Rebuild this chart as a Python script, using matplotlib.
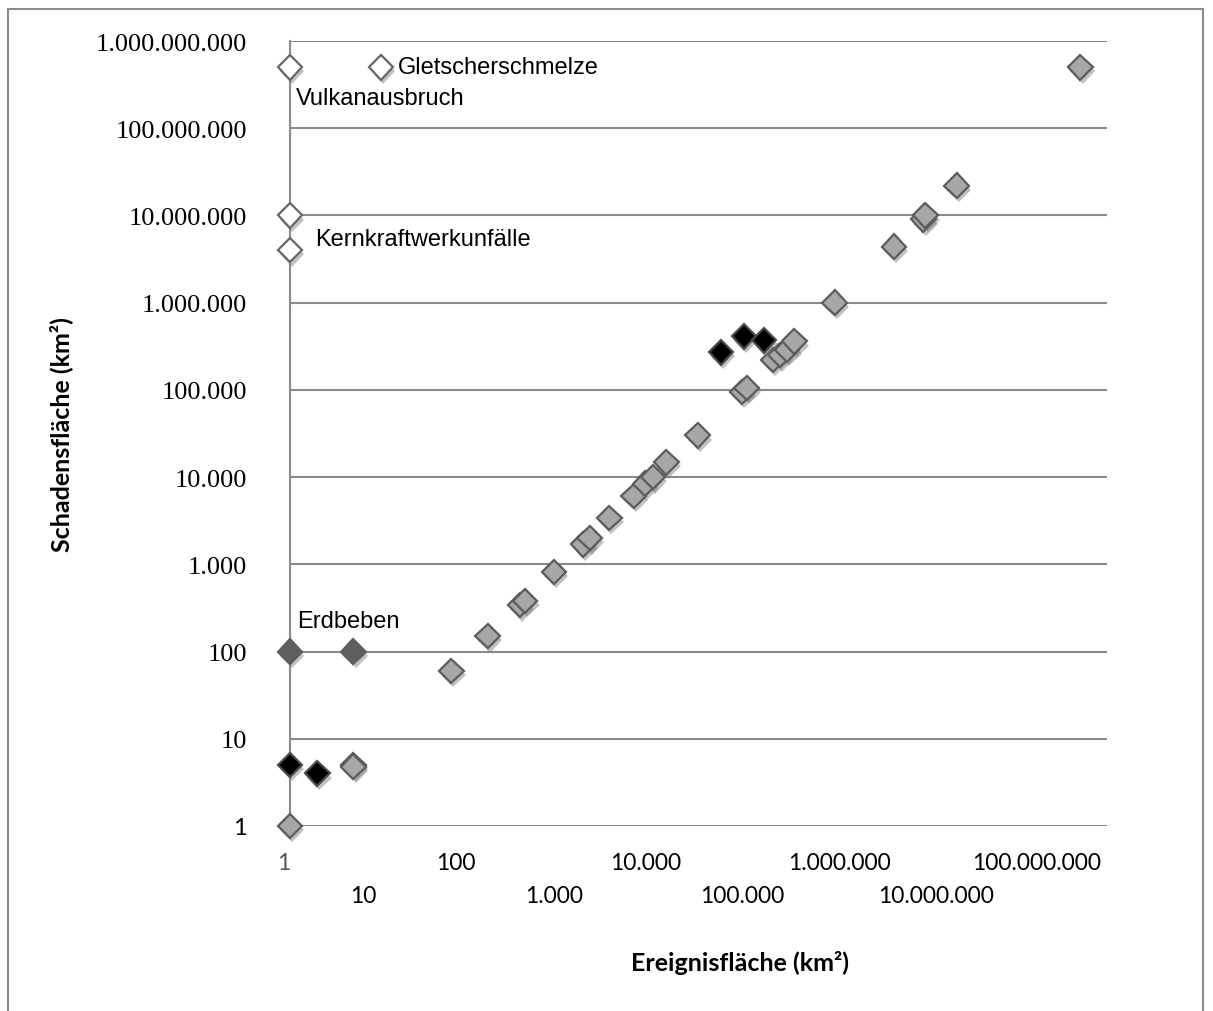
import matplotlib
matplotlib.use("Agg")
import matplotlib.pyplot as plt
import matplotlib.patheffects as pe
from matplotlib.transforms import blended_transform_factory
from matplotlib.patches import Rectangle

# Ereignisfläche (x) und Schadensfläche (y), km²
x_grau = [1, 5, 5, 60, 150, 340, 390, 810, 1700, 2000, 3300, 6100, 8100, 10000,
          14000, 31000, 95000, 107000, 210000, 250000, 300000, 360000,
          1000000, 4500000, 9500000, 10000000, 22000000, 510000000]
y_grau = [1, 5, 4.8, 60, 150, 340, 380, 820, 1700, 2000, 3400, 6100, 8400, 10000,
          14800, 30000, 95000, 105000, 220000, 250000, 290000, 360000,
          1000000, 4400000, 9000000, 10000000, 22000000, 500000000]

x_schwarz = [1, 2, 56000, 100000, 166000]
y_schwarz = [5, 4, 270000, 410000, 370000]

x_erdbeben = [1, 5]
y_erdbeben = [100, 100]

x_weiss = [1, 10, 1, 1]
y_weiss = [500000000, 500000000, 10000000, 4000000]

# Beschriftungen: Text, Punkt-Index in x_weiss/y_weiss
labels_weiss = [("Gletscherschmelze", 1), ("Vulkanausbruch", 0), ("Kernkraftwerkunfälle", 2)]
label_erdbeben = "Erdbeben"

y_ticks = [1, 10, 100, 1000, 10000, 100000, 1000000, 10000000, 100000000, 1000000000]
y_ticklabels = ["1", "10", "100", "1.000", "10.000", "100.000", "1.000.000",
                "10.000.000", "100.000.000", "1.000.000.000"]
x_ticks = [1, 10, 100, 1000, 10000, 100000, 1000000, 10000000, 100000000]
x_ticklabels = ["1", "10", "100", "1.000", "10.000", "100.000", "1.000.000",
                "10.000.000", "100.000.000"]
# Verschiebung der x-Beschriftungen gegenüber der Dekade (Pixel)
x_label_shift = [-6, -17, -16, -8, -7, -2, 5, 11, 20]

fig = plt.figure(figsize=(12.13, 10.12), dpi=100)
ax = fig.add_axes([290 / 1213, 185 / 1012, 817 / 1213, 785 / 1012])
ax.set_xscale("log")
ax.set_yscale("log")
ax.set_xlim(1, 1e9)
ax.set_ylim(1, 1e9)

# Rahmen um das ganze Diagramm
fig.patches.append(Rectangle((8 / 1213, -0.02), 1195 / 1213, 1.02 - 10 / 1012,
                             transform=fig.transFigure, fill=False,
                             edgecolor="#8c8c8c", linewidth=1.5))

for s in ["top", "right", "bottom"]:
    ax.spines[s].set_visible(False)
ax.spines["left"].set_color("#8a8a8a")
ax.spines["left"].set_linewidth(1.5)

ax.set_yticks(y_ticks)
ax.set_yticklabels(y_ticklabels, fontfamily="Liberation Serif", fontsize=19)
ax.get_yticklabels()[0].set_fontfamily("Lato")
ax.get_yticklabels()[0].set_fontsize(17)
ax.yaxis.set_minor_locator(matplotlib.ticker.NullLocator())
ax.tick_params(axis="y", length=0, pad=31)
ax.set_xticks([])
ax.xaxis.set_minor_locator(matplotlib.ticker.NullLocator())
ax.grid(axis="y", which="major", color="#8a8a8a", linewidth=1.5)
ax.set_axisbelow(True)

# x-Beschriftung in zwei versetzten Reihen
trans = blended_transform_factory(ax.transData, ax.transAxes)
for i, (xv, lab) in enumerate(zip(x_ticks, x_ticklabels)):
    row_y = -0.0471 if i % 2 == 0 else -0.0879
    col = "#555555" if lab == "1" else "black"
    ax.annotate(lab, (xv, row_y), xycoords=trans, xytext=(x_label_shift[i] * 0.72, 0),
                textcoords="offset points", ha="center", va="center",
                fontsize=16.5, fontfamily="Lato", color=col, annotation_clip=False)

shadow = [pe.SimplePatchShadow(offset=(1.5, -3), shadow_rgbFace="#777777", alpha=0.45),
          pe.Normal()]
ms = 12.5
ax.plot(x_grau, y_grau, linestyle="none", marker="D", markersize=ms,
        markerfacecolor="#a7a7a7", markeredgecolor="#5c5c5c", markeredgewidth=1.6,
        clip_on=False, zorder=3, path_effects=shadow)
ax.plot(x_schwarz, y_schwarz, linestyle="none", marker="D", markersize=ms,
        markerfacecolor="black", markeredgecolor="#4a4a4a", markeredgewidth=1.6,
        clip_on=False, zorder=4, path_effects=shadow)
ax.plot(x_erdbeben, y_erdbeben, linestyle="none", marker="D", markersize=ms,
        markerfacecolor="#5e5e5e", markeredgecolor="#5e5e5e", markeredgewidth=1.6,
        clip_on=False, zorder=4, path_effects=shadow)
ax.plot(x_weiss, y_weiss, linestyle="none", marker="D", markersize=ms,
        markerfacecolor="white", markeredgecolor="#666666", markeredgewidth=1.6,
        clip_on=False, zorder=4, path_effects=shadow)

offsets = {"Gletscherschmelze": (12, 0), "Vulkanausbruch": (4, -22),
           "Kernkraftwerkunfälle": (18, -17)}
for txt, idx in labels_weiss:
    ax.annotate(txt, (x_weiss[idx], y_weiss[idx]), xytext=offsets[txt],
                textcoords="offset points", ha="left", va="center",
                fontsize=17, fontfamily="Liberation Sans", annotation_clip=False)
ax.annotate(label_erdbeben, (x_erdbeben[0], y_erdbeben[0]), xytext=(5, 22),
            textcoords="offset points", ha="left", va="center",
            fontsize=17, fontfamily="Liberation Sans", annotation_clip=False)

fig.text(61 / 1213, 1 - 435 / 1012, "Schadensfläche (km²)", rotation=90,
         ha="center", va="center", fontsize=18, fontweight="bold", fontfamily="Lato")
fig.text(740 / 1213, 1 - 963 / 1012, "Ereignisfläche (km²)",
         ha="center", va="center", fontsize=18, fontweight="bold", fontfamily="Lato")

fig.savefig("out.png", dpi=100)
